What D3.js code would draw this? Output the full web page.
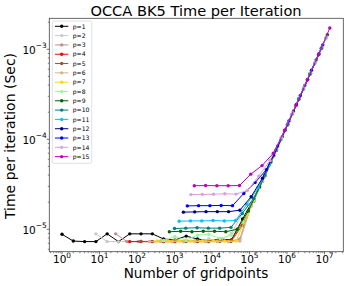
<!DOCTYPE html>
<html lang="en">

<head>
    <meta charset="utf-8">
    <title>OCCA BK5 Time per Iteration</title>
    <script type="text/javascript" src="https://d3js.org/d3.v7.min.js"></script>
    <style>
        body { margin: 0; background: #fff; }
        text { font-family: "DejaVu Sans", sans-serif; fill: #000; }
    </style>
</head>

<body>
    <div id="container"></div>
    <script type="text/javascript">
        // time per iteration (sec), one array per polynomial order p
        // gridpoints start at p^3 and double at each step
        const firstGridpoints = [1, 8, 27, 64, 125, 216, 343, 512, 729, 1000, 1331, 1728, 2197, 2744, 3375];
        const labels = ["p=1", "p=2", "p=3", "p=4", "p=5", "p=6", "p=7", "p=8", "p=9", "p=10", "p=11", "p=12", "p=13", "p=14", "p=15"];
        const colors = ["#000000", "#c8c8c8", "#bc8f8f", "#ff0000", "#a0522d", "#d2b48c", "#ffd700", "#98fb98",
            "#006400", "#008080", "#00bfff", "#000080", "#0000ff", "#dda0dd", "#bf00bf"];

        const p1 = [8.8e-6, 7.4e-6, 7.3e-6, 7.3e-6, 8.9e-6, 7.3e-6, 8.9e-6, 8.9e-6, 8.9e-6, 7.8e-6, 7.6e-6, 8.4e-6,
            7.8e-6, 7.5e-6, 7.8e-6, 7.6e-6, 1.3e-5, 2.2e-5, 4.0e-5, 7.6e-5, 1.47e-4, 2.8e-4, 5.4e-4, 1.03e-3];
        const p2 = [8.9e-6, 7.3e-6, 7.3e-6, 7.3e-6, 7.4e-6, 7.3e-6, 7.4e-6, 7.6e-6, 7.5e-6, 7.4e-6, 7.8e-6, 7.4e-6,
            9.0e-6, 1.5e-5, 2.2e-5, 4.1e-5, 7.8e-5, 1.5e-4, 2.85e-4, 5.5e-4, 1.05e-3];
        const p3 = [8.9e-6, 7.3e-6, 7.3e-6, 7.3e-6, 7.4e-6, 7.3e-6, 7.3e-6, 7.4e-6, 7.3e-6, 7.4e-6, 7.3e-6, 7.8e-6,
            1.9e-5, 3.4e-5, 6.5e-5, 1.25e-4, 2.4e-4, 4.6e-4, 8.8e-4];
        const p4 = [7.3e-6, 7.3e-6, 7.3e-6, 7.3e-6, 7.3e-6, 7.4e-6, 7.3e-6, 7.3e-6, 7.4e-6, 7.5e-6,
            1.2e-5, 2.1e-5, 4.0e-5, 7.7e-5, 1.48e-4, 2.83e-4, 5.4e-4, 1.04e-3];
        const p5 = [7.3e-6, 7.3e-6, 7.3e-6, 7.4e-6, 7.3e-6, 7.3e-6, 7.3e-6, 7.4e-6, 7.3e-6,
            1.1e-5, 2.05e-5, 3.9e-5, 7.5e-5, 1.44e-4, 2.77e-4, 5.3e-4, 1.02e-3];
        const p6 = [7.3e-6, 7.3e-6, 7.3e-6, 7.3e-6, 7.3e-6, 7.3e-6, 7.3e-6, 7.3e-6, 7.4e-6,
            1.8e-5, 3.4e-5, 6.5e-5, 1.25e-4, 2.4e-4, 4.6e-4, 8.8e-4];
        const p7 = [7.4e-6, 7.4e-6, 7.4e-6, 7.4e-6, 7.4e-6, 7.4e-6, 7.4e-6, 7.4e-6,
            1.45e-5, 2.8e-5, 5.3e-5, 1.0e-4, 1.94e-4, 3.7e-4, 7.1e-4, 1.37e-3];
        const p8 = [7.5e-6, 8.3e-6, 7.6e-6, 8.6e-6, 8.8e-6, 7.9e-6, 8.6e-6,
            1.2e-5, 2.1e-5, 4.0e-5, 7.7e-5, 1.48e-4, 2.83e-4, 5.4e-4, 1.04e-3];
        const p9 = [9.4e-6, 9.5e-6, 9.4e-6, 9.5e-6, 9.5e-6, 9.4e-6, 1.0e-5,
            1.6e-5, 2.95e-5, 5.6e-5, 1.07e-4, 2.06e-4, 3.95e-4, 7.6e-4, 1.45e-3];
        const p10 = [1.02e-5, 1.03e-5, 1.04e-5, 1.03e-5, 1.03e-5, 1.05e-5,
            1.5e-5, 2.2e-5, 4.0e-5, 7.6e-5, 1.45e-4, 2.8e-4, 5.3e-4, 1.02e-3];
        const p11 = [1.23e-5, 1.24e-5, 1.24e-5, 1.25e-5, 1.24e-5, 1.25e-5,
            1.9e-5, 2.9e-5, 5.2e-5, 9.9e-5, 1.9e-4, 3.6e-4, 6.95e-4, 1.33e-3];
        const p12 = [1.55e-5, 1.56e-5, 1.57e-5, 1.57e-5, 1.57e-5, 1.63e-5,
            2.3e-5, 3.7e-5, 6.7e-5, 1.27e-4, 2.42e-4, 4.6e-4, 8.85e-4];
        const p13 = [1.82e-5, 1.83e-5, 1.83e-5, 1.84e-5, 1.83e-5,
            2.5e-5, 3.3e-5, 4.6e-5, 8.4e-5, 1.6e-4, 3.05e-4, 5.85e-4, 1.12e-3];
        const p14 = [2.43e-5, 2.44e-5, 2.45e-5, 2.48e-5, 2.46e-5,
            2.7e-5, 3.9e-5, 5.8e-5, 1.05e-4, 1.98e-4, 3.8e-4, 7.2e-4, 1.38e-3];
        const p15 = [3.05e-5, 3.06e-5, 3.05e-5, 3.05e-5, 3.06e-5,
            4.1e-5, 5.1e-5, 7.0e-5, 1.25e-4, 2.38e-4, 4.55e-4, 8.7e-4, 1.72e-3];
        const times = [p1, p2, p3, p4, p5, p6, p7, p8, p9, p10, p11, p12, p13, p14, p15];

        const xMajor = [1e0, 1e1, 1e2, 1e3, 1e4, 1e5, 1e6, 1e7];
        const yMajor = [1e-5, 1e-4, 1e-3];

        var w = 349;
        var h = 286;
        var plotLeft = 49.3, plotRight = 343.3, plotTop = 18.3, plotBottom = 251.7;

        const svg = d3.select("div#container")
            .append("svg")
            .attr("width", w)
            .attr("height", h)
            .attr("viewBox", "0 0 " + w + " " + h);

        var x = d3.scaleLog().domain([Math.pow(10, -0.339), Math.pow(10, 7.501)]).range([plotLeft, plotRight]);
        var y = d3.scaleLog().domain([Math.pow(10, -5.249), Math.pow(10, -2.656)]).range([plotBottom, plotTop]);

        // minor ticks inside the visible range
        function minors(scale, lo, hi) {
            var out = [];
            var d = scale.domain();
            for (var e = lo; e <= hi; e++) {
                for (var m = 2; m <= 9; m++) {
                    var v = m * Math.pow(10, e);
                    if (v > d[0] && v < d[1]) out.push(v);
                }
            }
            return out;
        }

        // ticks
        var tickColor = "#333";
        svg.selectAll("line.xminor").data(minors(x, -1, 7)).enter().append("line")
            .attr("x1", d => x(d)).attr("x2", d => x(d))
            .attr("y1", plotBottom).attr("y2", plotBottom + 1.5)
            .attr("stroke", tickColor).attr("stroke-width", 0.6);
        svg.selectAll("line.xmajor").data(xMajor).enter().append("line")
            .attr("x1", d => x(d)).attr("x2", d => x(d))
            .attr("y1", plotBottom).attr("y2", plotBottom + 2.6)
            .attr("stroke", tickColor).attr("stroke-width", 0.7);
        svg.selectAll("line.yminor").data(minors(y, -6, -3)).enter().append("line")
            .attr("y1", d => y(d)).attr("y2", d => y(d))
            .attr("x1", plotLeft).attr("x2", plotLeft - 1.5)
            .attr("stroke", tickColor).attr("stroke-width", 0.6);
        svg.selectAll("line.ymajor").data(yMajor).enter().append("line")
            .attr("y1", d => y(d)).attr("y2", d => y(d))
            .attr("x1", plotLeft).attr("x2", plotLeft - 2.6)
            .attr("stroke", tickColor).attr("stroke-width", 0.7);

        // tick labels as 10^n
        var xl = svg.selectAll("text.xt").data(xMajor).enter().append("text")
            .attr("x", d => x(d))
            .attr("y", 263.3)
            .attr("text-anchor", "middle")
            .style("font-size", "10.5px");
        xl.append("tspan").text("10");
        xl.append("tspan").attr("dy", -5).style("font-size", "7.4px").text(d => Math.round(Math.log10(d)));

        var yl = svg.selectAll("text.yt").data(yMajor).enter().append("text")
            .attr("x", 46.7)
            .attr("y", d => y(d) + 4.7)
            .attr("text-anchor", "end")
            .style("font-size", "10.5px");
        yl.append("tspan").text("10");
        yl.append("tspan").attr("dy", -5.6).style("font-size", "7.4px").text(d => "\u2212" + Math.round(-Math.log10(d)));

        // series
        var line = d3.line().x(d => x(d[0])).y(d => y(d[1]));
        times.forEach(function (vals, i) {
            var pts = vals.map((v, k) => [firstGridpoints[i] * Math.pow(2, k), v]);
            var g = svg.append("g");
            g.append("path")
                .attr("d", line(pts))
                .attr("fill", "none")
                .attr("stroke", colors[i])
                .attr("stroke-width", 1);
            g.selectAll("circle")
                .data(pts)
                .enter()
                .append("circle")
                .attr("cx", d => x(d[0]))
                .attr("cy", d => y(d[1]))
                .attr("r", 1.7)
                .attr("fill", colors[i]);
        });

        // frame
        svg.append("rect")
            .attr("x", plotLeft).attr("y", plotTop)
            .attr("width", plotRight - plotLeft).attr("height", plotBottom - plotTop)
            .attr("fill", "none").attr("stroke", "#444").attr("stroke-width", 0.8);

        // legend
        var lg = svg.append("g");
        lg.append("rect")
            .attr("x", 52.3).attr("y", 21)
            .attr("width", 39.4).attr("height", 142.3)
            .attr("rx", 1.5)
            .attr("fill", "#fff").attr("fill-opacity", 0.8)
            .attr("stroke", "#ccc").attr("stroke-width", 0.6);
        labels.forEach(function (lab, i) {
            var cy = 26.3 + i * 9.31;
            lg.append("line").attr("x1", 55).attr("x2", 68.3).attr("y1", cy).attr("y2", cy)
                .attr("stroke", colors[i]).attr("stroke-width", 1);
            lg.append("circle").attr("cx", 61.7).attr("cy", cy).attr("r", 1.7).attr("fill", colors[i]);
            lg.append("text").attr("x", 72.7).attr("y", cy + 2.2)
                .style("font-size", "6.1px").text(lab);
        });

        // titles
        svg.append("text")
            .attr("x", 196).attr("y", 15.5)
            .attr("text-anchor", "middle")
            .style("font-size", "14.6px")
            .text("OCCA BK5 Time per Iteration");
        svg.append("text")
            .attr("x", 196).attr("y", 277.5)
            .attr("text-anchor", "middle")
            .style("font-size", "13.6px")
            .text("Number of gridpoints");
        svg.append("text")
            .attr("transform", "translate(14.5,136) rotate(-90)")
            .attr("text-anchor", "middle")
            .style("font-size", "14px")
            .text("Time per iteration (Sec)");
    </script>
</body>

</html>
